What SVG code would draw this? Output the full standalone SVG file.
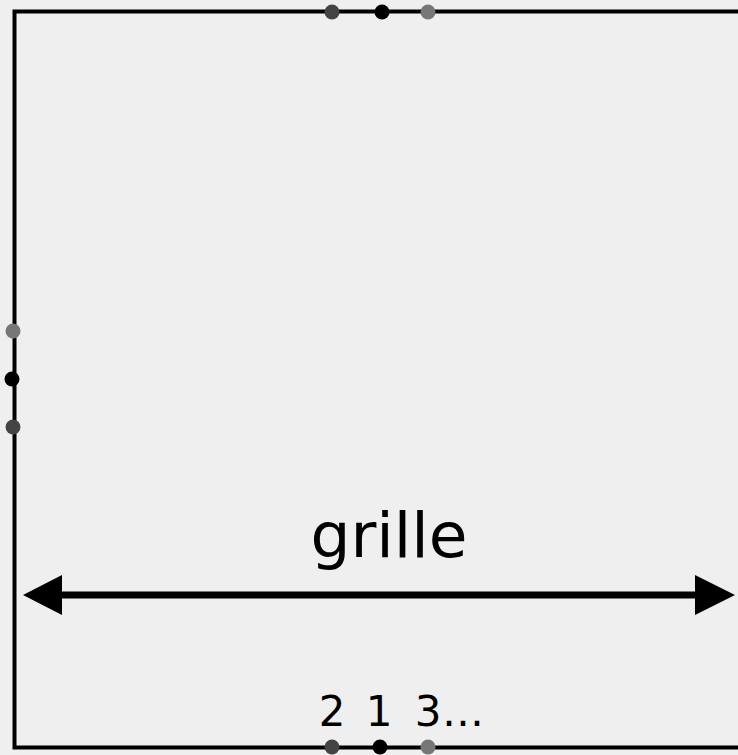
<svg xmlns="http://www.w3.org/2000/svg" width="738" height="755" viewBox="0 0 738 755">
<style>
.frame{fill:none;stroke:#000;stroke-width:4}
.lbl{font-family:"DejaVu Sans",sans-serif;fill:#000;text-anchor:middle}
.c1{fill:#000}.c2{fill:#444}.c3{fill:#777}
</style>
<rect width="738" height="755" fill="#efefef"/>
<g id="frame">
<path class="frame" d="M745,11.5 H14.5 V747.5 H745"/>
</g>
<g id="top-ports">
<circle class="c2" cx="332" cy="12" r="7.5"/>
<circle class="c1" cx="382" cy="12" r="7.5"/>
<circle class="c3" cx="428" cy="12" r="7.5"/>
</g>
<g id="left-ports">
<circle class="c3" cx="13" cy="331" r="7.5"/>
<circle class="c1" cx="12" cy="379" r="7.5"/>
<circle class="c2" cx="13" cy="427" r="7.5"/>
</g>
<g id="bottom-ports">
<circle class="c2" cx="332" cy="747" r="7.5"/>
<circle class="c1" cx="380" cy="747" r="7.5"/>
<circle class="c3" cx="428" cy="747" r="7.5"/>
</g>
<g id="connectors">
<line x1="62" y1="595" x2="695" y2="595" stroke="#000" stroke-width="7"/>
<path d="M23,595 L62,575 L62,615 Z" fill="#000"/>
<path d="M735,595 L695,575 L695,615 Z" fill="#000"/>
</g>
<g id="label-grille">
<text class="lbl" x="389" y="557" font-size="63">grille</text>
</g>
<g id="port-labels">
<text class="lbl" x="332" y="726" font-size="42">2</text>
<text class="lbl" x="379" y="726" font-size="42">1</text>
<text class="lbl" x="428" y="726" font-size="42">3</text>
<text class="lbl" x="442" y="726" font-size="42" style="text-anchor:start">…</text>
</g>
</svg>
